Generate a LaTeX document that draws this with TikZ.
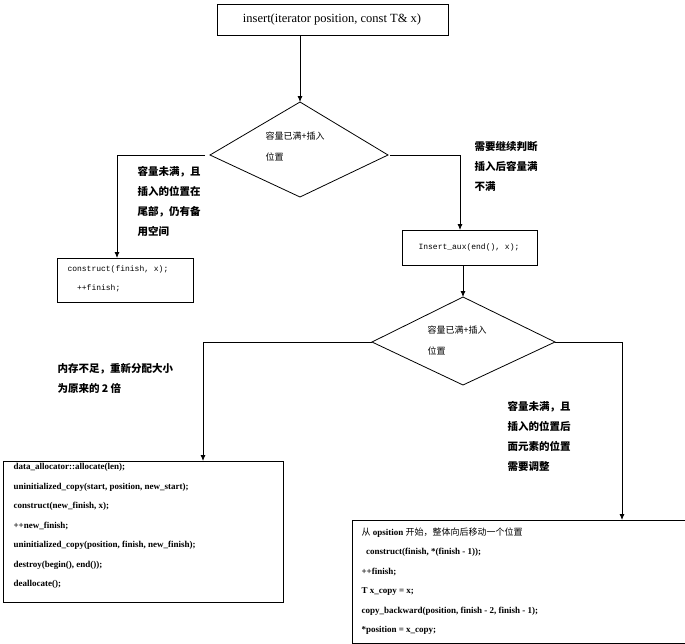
\documentclass[tikz,border=0pt]{standalone}
\usepackage{fontspec}
\setmainfont{Liberation Serif}
\setmonofont{Liberation Mono}
\newfontfamily\cjk{Noto Sans CJK SC}
\usetikzlibrary{shapes.geometric,arrows.meta}
\newcommand{\zh}[1]{{\cjk #1}}
\begin{document}
\begin{tikzpicture}[x=1pt,y=-1pt,
  box/.style={draw,thick,inner sep=0pt},
  cond/.style={font=\cjk\fontsize{9}{21}\selectfont,align=left,anchor=north west},
  note/.style={font=\cjk\bfseries\fontsize{10.5}{20}\selectfont,align=left,anchor=north west},
  code/.style={font=\bfseries\fontsize{9}{19.5}\selectfont,align=left,anchor=north west},
  arr/.style={thick,-{Latex[length=6pt,width=5pt]}}
  ]
	\useasboundingbox (0,0) rectangle (685,643);
	% boxes
	\draw[box] (217,4) rectangle (448,35);
	\node (start) at (332,19) {\fontsize{12.5}{14}\selectfont insert(iterator position, const T\& x)};
	\coordinate (startb) at (300,35);
	\draw[box] (57,258) rectangle (193,302);
	\coordinate (tail) at (117,258);
	\node[anchor=north west,font=\ttfamily\fontsize{8}{19}\selectfont,align=left] (tailtxt) at (64,262) {construct(finish, x);\\\ \ ++finish;};
	\draw[box] (402,230) rectangle (537,265);
	\coordinate (aux) at (460,230);
	\coordinate (auxb) at (463,265);
	\node[font=\ttfamily\fontsize{8}{10}\selectfont] (auxtxt) at (469,247) {Insert\_aux(end(), x);};
	\draw[box] (3,461) rectangle (283,602);
	\coordinate (realloc) at (203,461);
	\node[code] (realloctxt) at (10,460) {data\_allocator::allocate(len);\\uninitialized\_copy(start, position, new\_start);\\construct(new\_finish, x);\\++new\_finish;\\uninitialized\_copy(position, finish, new\_finish);\\destroy(begin(), end());\\deallocate();};
	\draw[box] (352,520) rectangle (685,643);
	\coordinate (shift) at (622,520);
	\node[code] (shifttxt) at (358,524) {\zh{\mdseries 从} opsition \zh{\mdseries 开始，整体向后移动一个位置}\\\ \ construct(finish, *(finish - 1));\\++finish;\\T x\_copy = x;\\copy\_backward(position, finish - 2, finish - 1);\\*position = x\_copy;};
	% diamonds
	\coordinate (d1t) at (300,102);
	\coordinate (d1l) at (210,155);
	\coordinate (d1r) at (388,155);
	\coordinate (d1b) at (300,197);
	\draw[thick] (d1t) -- (d1r) -- (d1b) -- (d1l) -- cycle;
	\node[cond] (d1txt) at (262,128) {容量已满+插入\\位置};
	\coordinate (d2t) at (463,297);
	\coordinate (d2l) at (372,342);
	\coordinate (d2r) at (555,342);
	\coordinate (d2b) at (463,385);
	\draw[thick] (d2t) -- (d2r) -- (d2b) -- (d2l) -- cycle;
	\node[cond] (d2txt) at (424,322) {容量已满+插入\\位置};
	% labels
	\node[note] (n1) at (134,163) {容量未满，且\\插入的位置在\\尾部，仍有备\\用空间};
	\node[note] (n2) at (471,138) {需要继续判断\\插入后容量满\\不满};
	\node[note] (n3) at (54,360) {内存不足，重新分配大小\\为原来的 2 倍};
	\node[note] (n4) at (504,398) {容量未满，且\\插入的位置后\\面元素的位置\\需要调整};
	% connectors
	\draw[arr] (startb) -- (d1t);
	\draw[arr] (205,155) -| (tail);
	\draw[arr] (390,155) -| (aux);
	\draw[arr] (auxb) -- (d2t);
	\draw[arr] (d2l) -| (realloc);
	\draw[arr] (d2r) -| (shift);
\end{tikzpicture}
\end{document}
